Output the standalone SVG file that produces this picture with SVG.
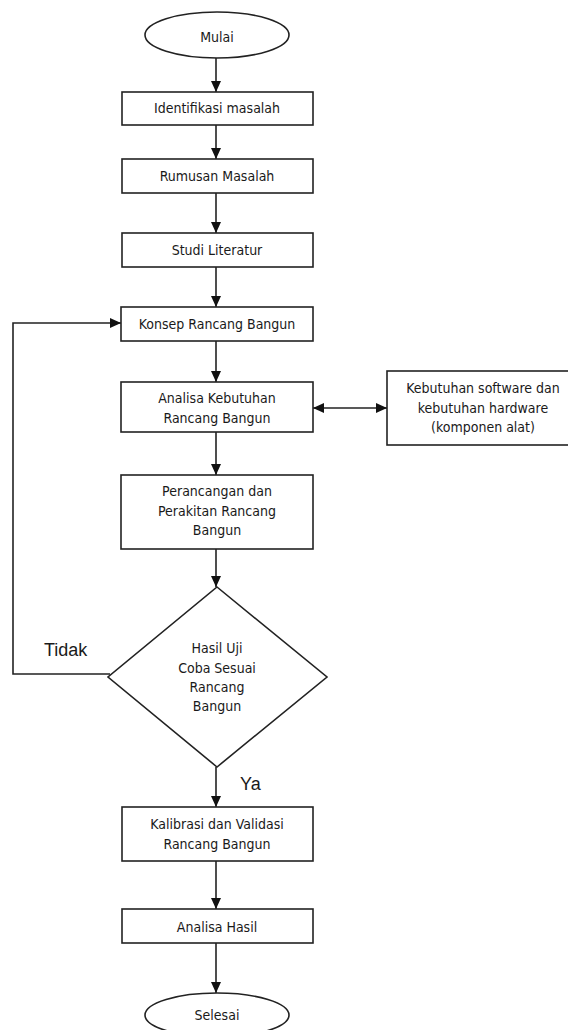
<svg xmlns="http://www.w3.org/2000/svg" width="568" height="1030" viewBox="0 0 568 1030">
<style>
.s{fill:#fff;stroke:#222;stroke-width:1.6}
.t{font-family:"DejaVu Sans Condensed","DejaVu Sans",sans-serif;font-size:14px;fill:#1a1a1a;text-anchor:middle}
.l{font-family:"Liberation Sans",Arial,sans-serif;font-size:18px;fill:#1a1a1a}
.c{fill:none;stroke:#222;stroke-width:1.6}
</style>
<defs>
<marker id="ah" markerUnits="userSpaceOnUse" markerWidth="12" markerHeight="10" refX="11" refY="5" orient="auto-start-reverse">
<path d="M0,0 L11,5 L0,10 Z" fill="#111"/>
</marker>
</defs>
<rect width="568" height="1030" fill="#fff"/>
<g id="connectors">
<line class="c" x1="216" y1="58" x2="216" y2="92" marker-end="url(#ah)"/>
<line class="c" x1="216" y1="125" x2="216" y2="159" marker-end="url(#ah)"/>
<line class="c" x1="216" y1="193" x2="216" y2="233" marker-end="url(#ah)"/>
<line class="c" x1="216" y1="267" x2="216" y2="307" marker-end="url(#ah)"/>
<line class="c" x1="216" y1="341" x2="216" y2="382" marker-end="url(#ah)"/>
<line class="c" x1="216" y1="432" x2="216" y2="475" marker-end="url(#ah)"/>
<line class="c" x1="216" y1="549" x2="216" y2="587" marker-end="url(#ah)"/>
<line class="c" x1="216" y1="767" x2="216" y2="807" marker-end="url(#ah)"/>
<line class="c" x1="216" y1="861" x2="216" y2="909" marker-end="url(#ah)"/>
<line class="c" x1="216" y1="943" x2="216" y2="993" marker-end="url(#ah)"/>
<line class="c" x1="313" y1="408" x2="387" y2="408" marker-start="url(#ah)" marker-end="url(#ah)"/>
<polyline class="c" points="110,674 13,674 13,323 121,323" marker-end="url(#ah)"/>
<text class="l" x="44" y="656">Tidak</text>
<text class="l" x="240" y="790">Ya</text>
</g>
<g id="mulai">
<ellipse class="s" cx="217" cy="35" rx="72" ry="23"/>
<text class="t" x="217" y="42">Mulai</text>
</g>
<g id="identifikasi">
<rect class="s" x="122" y="92" width="191" height="33"/>
<text class="t" x="217" y="113">Identifikasi masalah</text>
</g>
<g id="rumusan">
<rect class="s" x="122" y="159" width="191" height="34"/>
<text class="t" x="217" y="181">Rumusan Masalah</text>
</g>
<g id="studi">
<rect class="s" x="122" y="233" width="191" height="34"/>
<text class="t" x="217" y="255">Studi Literatur</text>
</g>
<g id="konsep">
<rect class="s" x="121" y="307" width="192" height="34"/>
<text class="t" x="217" y="329">Konsep Rancang Bangun</text>
</g>
<g id="analisa">
<rect class="s" x="121" y="382" width="192" height="50"/>
<text class="t" x="217" y="403">Analisa Kebutuhan</text>
<text class="t" x="217" y="423">Rancang Bangun</text>
</g>
<g id="kebutuhan">
<rect class="s" x="387" y="371" width="200" height="74"/>
<text class="t" x="483" y="393">Kebutuhan software dan</text>
<text class="t" x="483" y="413">kebutuhan hardware</text>
<text class="t" x="483" y="432">(komponen alat)</text>
</g>
<g id="perancangan">
<rect class="s" x="121" y="475" width="192" height="74"/>
<text class="t" x="217" y="496">Perancangan dan</text>
<text class="t" x="217" y="516">Perakitan Rancang</text>
<text class="t" x="217" y="535">Bangun</text>
</g>
<g id="uji">
<polygon class="s" points="217,587 327,677 217,767 108,677"/>
<text class="t" x="217" y="653">Hasil Uji</text>
<text class="t" x="217" y="673">Coba Sesuai</text>
<text class="t" x="217" y="692">Rancang</text>
<text class="t" x="217" y="711">Bangun</text>
</g>
<g id="kalibrasi">
<rect class="s" x="122" y="807" width="191" height="54"/>
<text class="t" x="217" y="829">Kalibrasi dan Validasi</text>
<text class="t" x="217" y="849">Rancang Bangun</text>
</g>
<g id="hasil">
<rect class="s" x="122" y="909" width="191" height="34"/>
<text class="t" x="217" y="932">Analisa Hasil</text>
</g>
<g id="selesai">
<ellipse class="s" cx="217" cy="1015" rx="72" ry="22"/>
<text class="t" x="217" y="1020">Selesai</text>
</g>
</svg>
